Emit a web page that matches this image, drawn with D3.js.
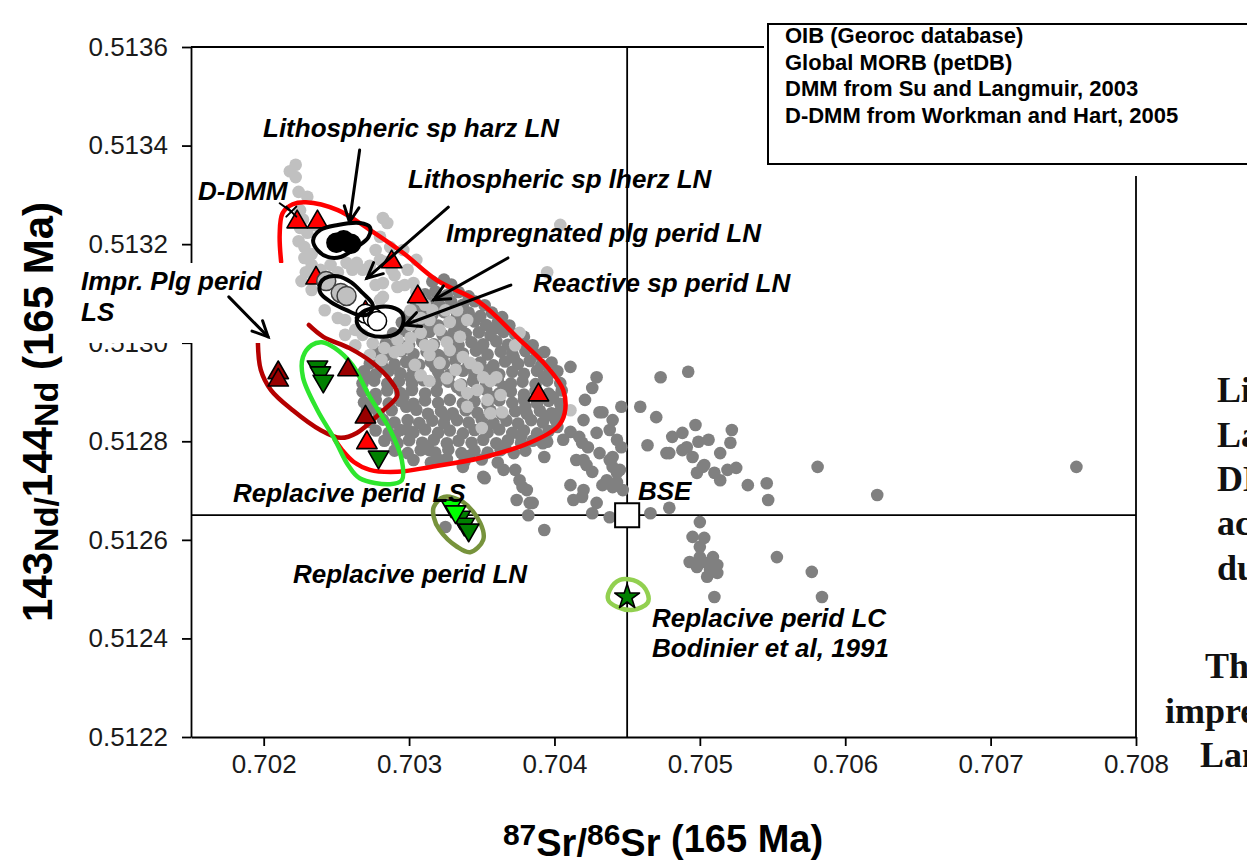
<!DOCTYPE html>
<html><head><meta charset="utf-8">
<script src="https://cdn.jsdelivr.net/npm/d3@7"></script>
<style>
html,body{margin:0;padding:0;background:#fff;overflow:hidden}
svg{display:block}
text{font-family:"Liberation Sans",Arial,Helvetica,sans-serif}
</style></head><body>
<svg id="chart" width="1247" height="863"></svg>
<script>
// ---- axis ticks ----
const xTicks = [0.702, 0.703, 0.704, 0.705, 0.706, 0.707, 0.708];
const yTicks = [0.5122, 0.5124, 0.5126, 0.5128, 0.5130, 0.5132, 0.5134, 0.5136];

// ---- reference compositions ----
const bse = [0.7045, 0.51265];
const ddmm = [0.70219, 0.513266];

// ---- OIB (Georoc) 87Sr/86Sr, 143Nd/144Nd ----
const oib = [
[0.70316,0.513124],[0.70324,0.513128],[0.70329,0.513118],
[0.70311,0.513098],[0.70318,0.513104],[0.70326,0.513096],[0.70334,0.513103],[0.70341,0.513094],
[0.70305,0.513079],[0.70313,0.513084],[0.70321,0.513076],[0.70329,0.513083],[0.70337,0.513077],[0.70345,0.513084],[0.70352,0.513076],
[0.70300,0.513058],[0.70308,0.513063],[0.70316,0.513056],[0.70324,0.513062],[0.70333,0.513055],[0.70341,0.513061],[0.70349,0.513054],[0.70357,0.513061],[0.70364,0.513052],
[0.70295,0.513041],[0.70303,0.513036],[0.70311,0.513043],[0.70320,0.513035],[0.70328,0.513042],[0.70336,0.513037],[0.70345,0.513043],[0.70353,0.513036],[0.70361,0.513041],[0.70369,0.513035],
[0.70289,0.513019],[0.70297,0.513024],[0.70306,0.513017],[0.70314,0.513022],[0.70323,0.513016],[0.70331,0.513023],[0.70339,0.513018],[0.70348,0.513021],[0.70356,0.513015],[0.70365,0.513022],[0.70373,0.513017],[0.70379,0.513012],
[0.70284,0.512998],[0.70292,0.513003],[0.70300,0.512996],[0.70309,0.513002],[0.70317,0.512997],[0.70326,0.513004],[0.70334,0.512995],[0.70343,0.513001],[0.70351,0.512997],[0.70360,0.513003],[0.70368,0.512996],[0.70377,0.513002],[0.70385,0.512995],
[0.70278,0.512981],[0.70286,0.512976],[0.70295,0.512983],[0.70303,0.512977],[0.70312,0.512982],[0.70320,0.512975],[0.70329,0.512981],[0.70337,0.512978],[0.70346,0.512984],[0.70354,0.512976],[0.70363,0.512982],[0.70371,0.512977],[0.70380,0.512983],[0.70388,0.512976],[0.70393,0.512981],
[0.70273,0.512958],[0.70281,0.512963],[0.70290,0.512956],[0.70298,0.512961],[0.70307,0.512955],[0.70315,0.512962],[0.70324,0.512957],[0.70332,0.512963],[0.70341,0.512956],[0.70349,0.512960],[0.70358,0.512954],[0.70366,0.512962],[0.70375,0.512957],[0.70383,0.512963],[0.70391,0.512955],[0.70398,0.512960],
[0.70269,0.512942],[0.70277,0.512936],[0.70286,0.512943],[0.70294,0.512938],[0.70303,0.512944],[0.70320,0.512941],[0.70328,0.512935],[0.70337,0.512943],[0.70345,0.512938],[0.70354,0.512944],[0.70362,0.512936],[0.70371,0.512941],[0.70379,0.512937],[0.70388,0.512943],[0.70396,0.512936],[0.70402,0.512942],
[0.70268,0.512918],[0.70276,0.512923],[0.70285,0.512917],[0.70293,0.512922],[0.70302,0.512916],[0.70310,0.512924],[0.70319,0.512919],[0.70327,0.512921],[0.70336,0.512915],[0.70344,0.512922],[0.70353,0.512918],[0.70361,0.512924],[0.70370,0.512917],[0.70378,0.512921],[0.70387,0.512916],[0.70395,0.512923],[0.70404,0.512918],
[0.70268,0.512901],[0.70277,0.512896],[0.70285,0.512903],[0.70294,0.512898],[0.70302,0.512904],[0.70311,0.512897],[0.70319,0.512902],[0.70336,0.512903],[0.70345,0.512898],[0.70353,0.512904],[0.70362,0.512897],[0.70370,0.512901],[0.70379,0.512895],[0.70387,0.512902],[0.70396,0.512897],[0.70405,0.512903],
[0.70269,0.512879],[0.70277,0.512884],[0.70286,0.512877],[0.70294,0.512882],[0.70303,0.512876],[0.70311,0.512883],[0.70320,0.512878],[0.70328,0.512884],[0.70337,0.512877],[0.70345,0.512881],[0.70354,0.512876],[0.70362,0.512883],[0.70371,0.512878],[0.70379,0.512884],[0.70388,0.512877],[0.70396,0.512882],[0.70404,0.512876],
[0.70271,0.512862],[0.70279,0.512857],[0.70288,0.512863],[0.70305,0.512864],[0.70313,0.512856],[0.70322,0.512861],[0.70330,0.512857],[0.70339,0.512863],[0.70347,0.512858],[0.70356,0.512862],[0.70364,0.512855],[0.70373,0.512861],[0.70381,0.512856],[0.70390,0.512862],[0.70398,0.512857],[0.70404,0.512861],
[0.70273,0.512839],[0.70282,0.512844],[0.70290,0.512838],[0.70299,0.512843],[0.70307,0.512837],[0.70316,0.512842],[0.70324,0.512836],[0.70333,0.512843],[0.70341,0.512838],[0.70350,0.512844],[0.70358,0.512837],[0.70367,0.512842],[0.70375,0.512836],[0.70384,0.512843],[0.70392,0.512838],[0.70401,0.512842],
[0.70277,0.512822],[0.70286,0.512817],[0.70294,0.512823],[0.70303,0.512818],[0.70311,0.512824],[0.70320,0.512817],[0.70328,0.512822],[0.70337,0.512816],[0.70345,0.512823],[0.70354,0.512818],[0.70362,0.512824],[0.70371,0.512817],[0.70379,0.512822],[0.70388,0.512816],[0.70396,0.512821],
[0.70283,0.512801],[0.70292,0.512796],[0.70300,0.512802],[0.70309,0.512797],[0.70317,0.512803],[0.70326,0.512796],[0.70334,0.512801],[0.70343,0.512797],[0.70351,0.512803],[0.70360,0.512796],[0.70368,0.512802],[0.70377,0.512797],[0.70385,0.512801],[0.70392,0.512796],
[0.70290,0.512781],[0.70299,0.512776],[0.70308,0.512782],[0.70318,0.512777],[0.70327,0.512783],[0.70336,0.512776],[0.70345,0.512781],[0.70354,0.512777],[0.70363,0.512782],[0.70372,0.512776],[0.70380,0.512781],
[0.70303,0.512762],[0.70315,0.512757],[0.70326,0.512764],[0.70338,0.512758],[0.70350,0.512763],[0.70361,0.512757],
[0.70282,0.512950],[0.70301,0.512930],[0.70333,0.512910],[0.70357,0.512890],[0.70380,0.512870],[0.70298,0.512870],[0.70325,0.512850],[0.70352,0.512830],
[0.70377,0.512810],[0.70290,0.512810],[0.70312,0.512790],[0.70341,0.512770],[0.70366,0.512790],[0.70394,0.512850],[0.70399,0.512890],[0.70393,0.512930],
[0.70372,0.512970],[0.70350,0.512990],[0.70330,0.513010],[0.70310,0.513030],[0.70342,0.513050],[0.70360,0.513030],[0.70323,0.512970],[0.70285,0.512990],
[0.70296,0.512890],[0.70318,0.512950],[0.70345,0.512930],[0.70365,0.512910],[0.70272,0.512930],[0.70274,0.512870],
[0.70411,0.512951],[0.70429,0.512930],[0.70426,0.512908],[0.70421,0.512884],[0.70431,0.512859],[0.70446,0.512870],[0.70459,0.512870],[0.70470,0.512849],
[0.70473,0.512930],[0.70492,0.512941],[0.70497,0.512833],[0.70522,0.512823],[0.70521,0.512797],[0.70514,0.512776],[0.70506,0.512803],[0.70488,0.512817],
[0.70481,0.512809],[0.70479,0.512776],[0.70491,0.512788],[0.70495,0.512768],[0.70502,0.512748],[0.70510,0.512736],[0.70514,0.512721],[0.70525,0.512746],
[0.70533,0.512711],[0.70546,0.512715],[0.70547,0.512681],[0.70479,0.512665],[0.70466,0.512654],[0.70500,0.512636],[0.70495,0.512606],[0.70503,0.512604],
[0.70500,0.512586],[0.70440,0.512768],[0.70431,0.512776],[0.70436,0.512721],[0.70445,0.512742],[0.70440,0.512707],[0.70429,0.512675],[0.70420,0.512701],
[0.70411,0.512711],[0.70413,0.512681],[0.70426,0.512654],[0.70438,0.512646],[0.70422,0.512752],[0.70419,0.512797],[0.70415,0.512762],[0.70406,0.512803],
[0.70411,0.512819],[0.70402,0.512829],[0.70393,0.512768],[0.70395,0.512799],[0.70382,0.512650],[0.70393,0.512620],[0.70385,0.512675],[0.70381,0.512701],
[0.70376,0.512721],[0.70373,0.512742],[0.70352,0.512725],[0.70365,0.512742],[0.70499,0.512799],[0.70464,0.512792],[0.70477,0.512776],[0.70488,0.512782],
[0.70503,0.512752],[0.70519,0.512742],[0.70498,0.512736],[0.70581,0.512748],[0.70622,0.512691],[0.70493,0.512555],[0.70500,0.512565],[0.70505,0.512553],
[0.70509,0.512565],[0.70512,0.512549],[0.70507,0.512539],[0.70512,0.512533],[0.70505,0.512525],[0.70498,0.512545],[0.70553,0.512565],[0.70577,0.512535],
[0.70510,0.512484],[0.70584,0.512484],[0.70419,0.512687],[0.70443,0.512717],[0.70447,0.512701],[0.70433,0.512711],[0.70426,0.512738],[0.70443,0.512736],
[0.70438,0.512762],[0.70420,0.512762],[0.70423,0.512788],[0.70417,0.512809],[0.70429,0.512817],[0.70438,0.512823],[0.70443,0.512803],[0.70446,0.512788],
[0.70440,0.512843],[0.70433,0.512859],[0.70420,0.512843],[0.70440,0.512748],[0.70299,0.512823],[0.70314,0.512782],[0.70321,0.512762],[0.70337,0.512748],
[0.70351,0.512728],[0.70378,0.512707],[0.70383,0.512675],[0.70374,0.512681],[0.70325,0.512626],[0.70759,0.512748]
];

// ---- Global MORB (petDB) ----
const morb = [
[0.70222,0.513361],[0.70218,0.513348],[0.70222,0.513336],[0.70224,0.513306],[0.70230,0.513296],[0.70282,0.513253],[0.70285,0.513243],[0.70404,0.513239],[0.70395,0.513143],
[0.70225,0.513233],[0.70230,0.513223],[0.70224,0.513206],[0.70228,0.513194],[0.70233,0.513180],[0.70228,0.513172],[0.70233,0.513158],[0.70239,0.513148],[0.70229,0.513143],
[0.70227,0.513250],[0.70236,0.513238],[0.70225,0.513269],[0.70226,0.513125],[0.70233,0.513107],[0.70242,0.513066],[0.70251,0.513050],
[0.70257,0.513162],[0.70264,0.513162],[0.70261,0.513148],[0.70268,0.513148],[0.70273,0.513156],[0.70280,0.513215],[0.70287,0.513194],[0.70296,0.513188],[0.70280,0.513168],
[0.70299,0.513148],[0.70305,0.513168],[0.70303,0.513121],[0.70292,0.513113],[0.70282,0.513121],[0.70282,0.513093],[0.70308,0.513087],[0.70288,0.513148],
[0.70277,0.513188],[0.70283,0.513164],[0.70290,0.513137],[0.70297,0.513117],[0.70305,0.513103],[0.70311,0.513077],[0.70301,0.513066],[0.70308,0.513050],
[0.70321,0.513026],[0.70328,0.513042],[0.70325,0.513066],[0.70246,0.513158],[0.70251,0.513143],[0.70277,0.513117],[0.70280,0.513087],
[0.70256,0.513046],[0.70263,0.513026],[0.70256,0.513016],[0.70263,0.512995],[0.70301,0.513036],[0.70294,0.512985],[0.70314,0.512975],[0.70328,0.512985],[0.70304,0.512955],
[0.70268,0.513016],[0.70275,0.512999],[0.70283,0.512989],[0.70273,0.512975],[0.70281,0.512965],[0.70290,0.512981],[0.70292,0.513006],[0.70301,0.513010],
[0.70308,0.513020],[0.70299,0.512991],[0.70311,0.512995],[0.70316,0.513066],[0.70333,0.513066],[0.70340,0.513046],[0.70314,0.513046],
[0.70316,0.512995],[0.70326,0.513001],[0.70335,0.513012],[0.70337,0.512971],[0.70342,0.512959],[0.70347,0.512949],[0.70351,0.512930],[0.70356,0.512922],
[0.70347,0.512904],[0.70308,0.512934],[0.70314,0.512922],[0.70326,0.512928],[0.70340,0.512898],[0.70354,0.512884],[0.70356,0.512857],[0.70350,0.512827],
[0.70364,0.512859],[0.70360,0.512930],[0.70321,0.512959],[0.70332,0.512945],[0.70335,0.512914],[0.70363,0.512894],[0.70376,0.513020],[0.70373,0.512995],
[0.70411,0.512863],[0.70340,0.512870]
];

// ---- peridotite samples ----
const lnTriangles = [[0.70223,0.513245],[0.70237,0.513245],[0.70288,0.513164],[0.70236,0.513131],[0.70306,0.513093],[0.70270,0.513062],[0.70389,0.512894],[0.70271,0.512797]];
const lsTriangles = [[0.70210,0.512939],[0.70210,0.512924],[0.70258,0.512945],[0.70270,0.512849]];
const lsReplacive = [[0.70237,0.512951],[0.70239,0.512939],[0.70241,0.512922],[0.70279,0.512768]];
const lnReplaciveLight = [[0.70329,0.512669],[0.70332,0.512657]];
const lnReplaciveDark = [[0.70335,0.512646],[0.70338,0.512632],[0.70341,0.512620]];
const lcReplacive = [[0.7045,0.512484]];
const harzLN = [[0.70250,0.513203],[0.70255,0.513208],[0.70260,0.513201]];
const lherzLN = [[0.70243,0.513125],[0.70253,0.513101],[0.70257,0.513095]];
const reactiveLN = [[0.70270,0.513059],[0.70275,0.513051],[0.70278,0.513044]];

// ---- hand-drawn envelopes ----
const envLN = [[0.70212,0.513164],[0.70211,0.513219],[0.70213,0.513263],[0.70220,0.513281],[0.70229,0.513285],[0.70251,0.513269],[0.70273,0.513229],[0.70296,0.513182],[0.70319,0.513127],[0.70349,0.513081],[0.70374,0.513012],[0.70395,0.512951],[0.70406,0.512904],[0.70407,0.512857],[0.70402,0.512829],[0.70383,0.512797],[0.70349,0.512766],[0.70315,0.512748],[0.70292,0.512738],[0.70273,0.512742],[0.70262,0.512758],[0.70254,0.512782],[0.70249,0.512803]];
const envLS = [[0.70196,0.513001],[0.70198,0.512945],[0.70205,0.512904],[0.70220,0.512863],[0.70239,0.512823],[0.70253,0.512807],[0.70264,0.512817],[0.70280,0.512857],[0.70292,0.512894],[0.70287,0.512924],[0.70275,0.512959],[0.70259,0.512989],[0.70241,0.513012],[0.70231,0.513036]];
const envReplLS = [[0.70227,0.512971],[0.70233,0.512995],[0.70240,0.513001],[0.70249,0.512989],[0.70261,0.512955],[0.70273,0.512890],[0.70287,0.512823],[0.70295,0.512762],[0.70295,0.512721],[0.70287,0.512713],[0.70266,0.512725],[0.70258,0.512752],[0.70249,0.512803],[0.70237,0.512863],[0.70227,0.512930]];
const envReplLN = [[0.70317,0.512667],[0.70324,0.512687],[0.70337,0.512677],[0.70349,0.512634],[0.70351,0.512600],[0.70342,0.512575],[0.70333,0.512586],[0.70321,0.512620],[0.70317,0.512646]];
const envReplLC = [[0.70438,0.512498],[0.70445,0.512519],[0.70457,0.512515],[0.70464,0.512492],[0.70464,0.512472],[0.70454,0.512458],[0.70443,0.512464],[0.70437,0.512478]];
const envHarz = [[0.70234,0.513208],[0.70239,0.513229],[0.70251,0.513239],[0.70266,0.513243],[0.70273,0.513235],[0.70272,0.513214],[0.70264,0.513194],[0.70253,0.513174],[0.70244,0.513174],[0.70237,0.513188]];
const envLherz = [[0.70239,0.513121],[0.70242,0.513131],[0.70251,0.513135],[0.70260,0.513123],[0.70268,0.513101],[0.70275,0.513077],[0.70273,0.513060],[0.70266,0.513056],[0.70257,0.513066],[0.70246,0.513083],[0.70239,0.513101]];
const envReactive = [[0.70264,0.513046],[0.70268,0.513062],[0.70278,0.513072],[0.70288,0.513072],[0.70295,0.513060],[0.70296,0.513040],[0.70292,0.513020],[0.70282,0.513012],[0.70273,0.513016],[0.70266,0.513030]];

// ---- leader arrows [from, to] ----
const arrows = [
  [[0.70266,0.513391],[0.70259,0.513245]],
  [[0.70327,0.513275],[0.70271,0.513131]],
  [[0.70368,0.513172],[0.70317,0.513087]],
  [[0.70370,0.513117],[0.70297,0.513036]],
  [[0.70176,0.513093],[0.70203,0.513012]]
];
const ddmmLeader = [[0.70211,0.513283],[0.70219,0.513266]];

const legendLines = ["OIB (Georoc database)", "Global MORB (petDB)", "DMM from Su and Langmuir, 2003", "D-DMM from Workman and Hart, 2005"];

// ---- layout ----
const plot = {left: 191, right: 1136, top: 47, bottom: 737};
const svg = d3.select("#chart");
const x = d3.scaleLinear().domain([0.7015, 0.708]).range([plot.left, plot.right]);
const y = d3.scaleLinear().domain([0.5122, 0.5136]).range([plot.bottom, plot.top]);

// frame and reference cross through BSE
const frame = svg.append("g").attr("stroke", "#000").attr("stroke-width", 1.8).attr("fill", "none");
frame.append("line").attr("x1", plot.left).attr("x2", plot.right).attr("y1", plot.top).attr("y2", plot.top);
frame.append("line").attr("x1", plot.right).attr("x2", plot.right).attr("y1", plot.top).attr("y2", plot.bottom);
frame.append("line").attr("x1", x(bse[0])).attr("x2", x(bse[0])).attr("y1", plot.top).attr("y2", plot.bottom);
frame.append("line").attr("x1", plot.left).attr("x2", plot.right).attr("y1", y(bse[1])).attr("y2", y(bse[1]));

// axes
const yAxis = svg.append("g").attr("transform", `translate(${plot.left},0)`)
  .call(d3.axisLeft(y).tickValues(yTicks).tickFormat(d3.format(".4f")).tickSize(9).tickSizeOuter(0).tickPadding(14));
const xAxis = svg.append("g").attr("transform", `translate(0,${plot.bottom})`)
  .call(d3.axisBottom(x).tickValues(xTicks).tickFormat(d3.format(".3f")).tickSize(9).tickSizeOuter(0).tickPadding(9));
[xAxis, yAxis].forEach(g => {
  g.select(".domain").attr("stroke", "#000").attr("stroke-width", 1.8);
  g.selectAll(".tick line").attr("stroke", "#000").attr("stroke-width", 1.8);
  g.selectAll(".tick text").attr("fill", "#1a1a1a").style("font-size", "26px").style("font-family", '"Liberation Sans",Arial,sans-serif');
});

// data clouds
const dots = (data, fill) => svg.append("g").selectAll("circle").data(data).join("circle")
  .attr("cx", d => x(d[0])).attr("cy", d => y(d[1])).attr("r", 6.3).attr("fill", fill);
dots(oib, "#808080");
dots(morb, "#c0c0c0");

// envelopes
const openLine = d3.line().x(d => x(d[0])).y(d => y(d[1])).curve(d3.curveCatmullRom.alpha(0.5));
const closedLine = d3.line().x(d => x(d[0])).y(d => y(d[1])).curve(d3.curveCatmullRomClosed.alpha(0.5));
const env = (data, gen, color, w) => svg.append("path").attr("d", gen(data)).attr("fill", "none")
  .attr("stroke", color).attr("stroke-width", w).attr("stroke-linecap", "round").attr("stroke-linejoin", "round");
env(envLN, openLine, "#ff0000", 4.5);
env(envLS, openLine, "#b50000", 4.5);
env(envReplLS, closedLine, "#2ee62e", 4.5);
env(envReplLN, closedLine, "#77933c", 4.5);
env(envReplLC, closedLine, "#92d050", 4.5);

// sample symbols
const sym = (data, type, size, fill, stroke, rot) => svg.append("g").selectAll("path").data(data).join("path")
  .attr("d", d3.symbol().type(type).size(size))
  .attr("transform", d => `translate(${x(d[0])},${y(d[1])}) rotate(${rot || 0})`)
  .attr("fill", fill).attr("stroke", stroke).attr("stroke-width", 1.6).attr("stroke-linejoin", "round");
sym(lsTriangles, d3.symbolTriangle, 180, "#990000", "#000");
sym(lnTriangles, d3.symbolTriangle, 180, "#ff0000", "#000");
sym(lsReplacive, d3.symbolTriangle, 180, "#008000", "#000", 180);
sym(lnReplaciveDark, d3.symbolTriangle, 180, "#008000", "#000", 180);
sym(lnReplaciveLight, d3.symbolTriangle, 180, "#00ff00", "#000", 180);
sym(lcReplacive, d3.symbolStar, 190, "#008000", "#000");

const circ = (data, fill, stroke) => svg.append("g").selectAll("circle").data(data).join("circle")
  .attr("cx", d => x(d[0])).attr("cy", d => y(d[1])).attr("r", 9.5)
  .attr("fill", fill).attr("stroke", stroke).attr("stroke-width", 1.5);
circ(harzLN, "#000", "#000");
circ(lherzLN, "#c0c0c0", "#404040");
circ(reactiveLN, "#fff", "#000");
env(envHarz, closedLine, "#000", 4);
env(envLherz, closedLine, "#000", 4);
env(envReactive, closedLine, "#000", 4);

// BSE square
svg.append("path").attr("d", d3.symbol().type(d3.symbolSquare).size(580))
  .attr("transform", `translate(${x(bse[0])},${y(bse[1])})`)
  .attr("fill", "#fff").attr("stroke", "#000").attr("stroke-width", 2);

// label background on the y axis
svg.append("rect").attr("x", 72).attr("y", 263).attr("width", 218).attr("height", 80).attr("fill", "#fff");

// arrows
const arrowG = svg.append("g").attr("stroke", "#000").attr("stroke-width", 3).attr("fill", "none").attr("stroke-linecap", "round");
arrows.forEach(([a, b]) => {
  const x1 = x(a[0]), y1 = y(a[1]), x2 = x(b[0]), y2 = y(b[1]);
  const ang = Math.atan2(y2 - y1, x2 - x1), L = 17, s = 0.45;
  arrowG.append("line").attr("x1", x1).attr("y1", y1).attr("x2", x2).attr("y2", y2);
  arrowG.append("path").attr("d", `M${x2 - L * Math.cos(ang - s)},${y2 - L * Math.sin(ang - s)}L${x2},${y2}L${x2 - L * Math.cos(ang + s)},${y2 - L * Math.sin(ang + s)}`);
});
{
  const [a, b] = ddmmLeader;
  arrowG.append("line").attr("x1", x(a[0])).attr("y1", y(a[1])).attr("x2", x(b[0])).attr("y2", y(b[1])).attr("stroke-width", 2);
  const cx = x(ddmm[0]), cy = y(ddmm[1]), r = 5;
  arrowG.append("path").attr("stroke-width", 2)
    .attr("d", `M${cx - r},${cy + r}L${cx + r},${cy - r}M${cx - r},${cy - r}L${cx + r},${cy + r}`);
}

// annotations
const notes = [
  ["D-DMM", 198, 200],
  ["Lithospheric sp harz LN", 263, 137],
  ["Lithospheric sp lherz LN", 408, 188],
  ["Impregnated plg perid LN", 446, 242],
  ["Reactive sp perid LN", 533, 292],
  ["Impr. Plg perid", 81, 290],
  ["LS", 81, 321],
  ["Replacive perid LS", 233, 502],
  ["Replacive perid LN", 293, 583],
  ["BSE", 638, 500],
  ["Replacive perid LC", 652, 627],
  ["Bodinier et al, 1991", 652, 657]
];
svg.append("g").selectAll("text").data(notes).join("text")
  .attr("x", d => d[1]).attr("y", d => d[2]).text(d => d[0])
  .style("font-size", "26px").style("font-weight", "bold").style("font-style", "italic").attr("fill", "#000");

// legend box
svg.append("rect").attr("x", 764).attr("y", 20).attr("width", 500).attr("height", 156).attr("fill", "#fff");
svg.append("rect").attr("x", 768).attr("y", 24).attr("width", 500).attr("height", 140).attr("fill", "#fff").attr("stroke", "#000").attr("stroke-width", 2);
svg.append("g").selectAll("text").data(legendLines).join("text")
  .attr("x", 785).attr("y", (d, i) => 43 + i * 26.5).text(d => d)
  .style("font-size", "22px").style("font-weight", "bold").attr("fill", "#000");

// axis titles
const xt = svg.append("text").attr("x", 663).attr("y", 856).attr("text-anchor", "middle")
  .style("font-size", "38px").style("font-weight", "bold");
xt.append("tspan").text("87").style("font-size", "30px").attr("dy", -11);
xt.append("tspan").text("Sr/").attr("dy", 11);
xt.append("tspan").text("86").style("font-size", "30px").attr("dy", -11);
xt.append("tspan").text("Sr").attr("dy", 11);
xt.append("tspan").text(" (165 Ma)").attr("dy", -4);

const yt = svg.append("text").attr("transform", "translate(58,412) rotate(-90)").attr("text-anchor", "middle")
  .style("font-size", "42px").style("font-weight", "bold");
yt.append("tspan").text("143").attr("dy", -6);
yt.append("tspan").text("Nd/").style("font-size", "34px").attr("dy", 6);
yt.append("tspan").text("144").attr("dy", -6);
yt.append("tspan").text("Nd").style("font-size", "34px").attr("dy", 6);
yt.append("tspan").text(" (165 Ma)").attr("dy", -5);

// side notes
const side = [
  ["Lithospheric", 1217, 402], ["Lanzo", 1217, 447], ["DMM", 1217, 491], ["acquired", 1217, 535], ["during", 1217, 580],
  ["The", 1205, 678], ["impregnated", 1165, 723], ["Lanzo", 1200, 767]
];
svg.append("g").selectAll("text").data(side).join("text")
  .attr("x", d => d[1]).attr("y", d => d[2]).text(d => d[0])
  .style("font-family", '"Liberation Serif","DejaVu Serif",serif').style("font-size", "36px").style("font-weight", "bold").attr("fill", "#111");
</script></body></html>
